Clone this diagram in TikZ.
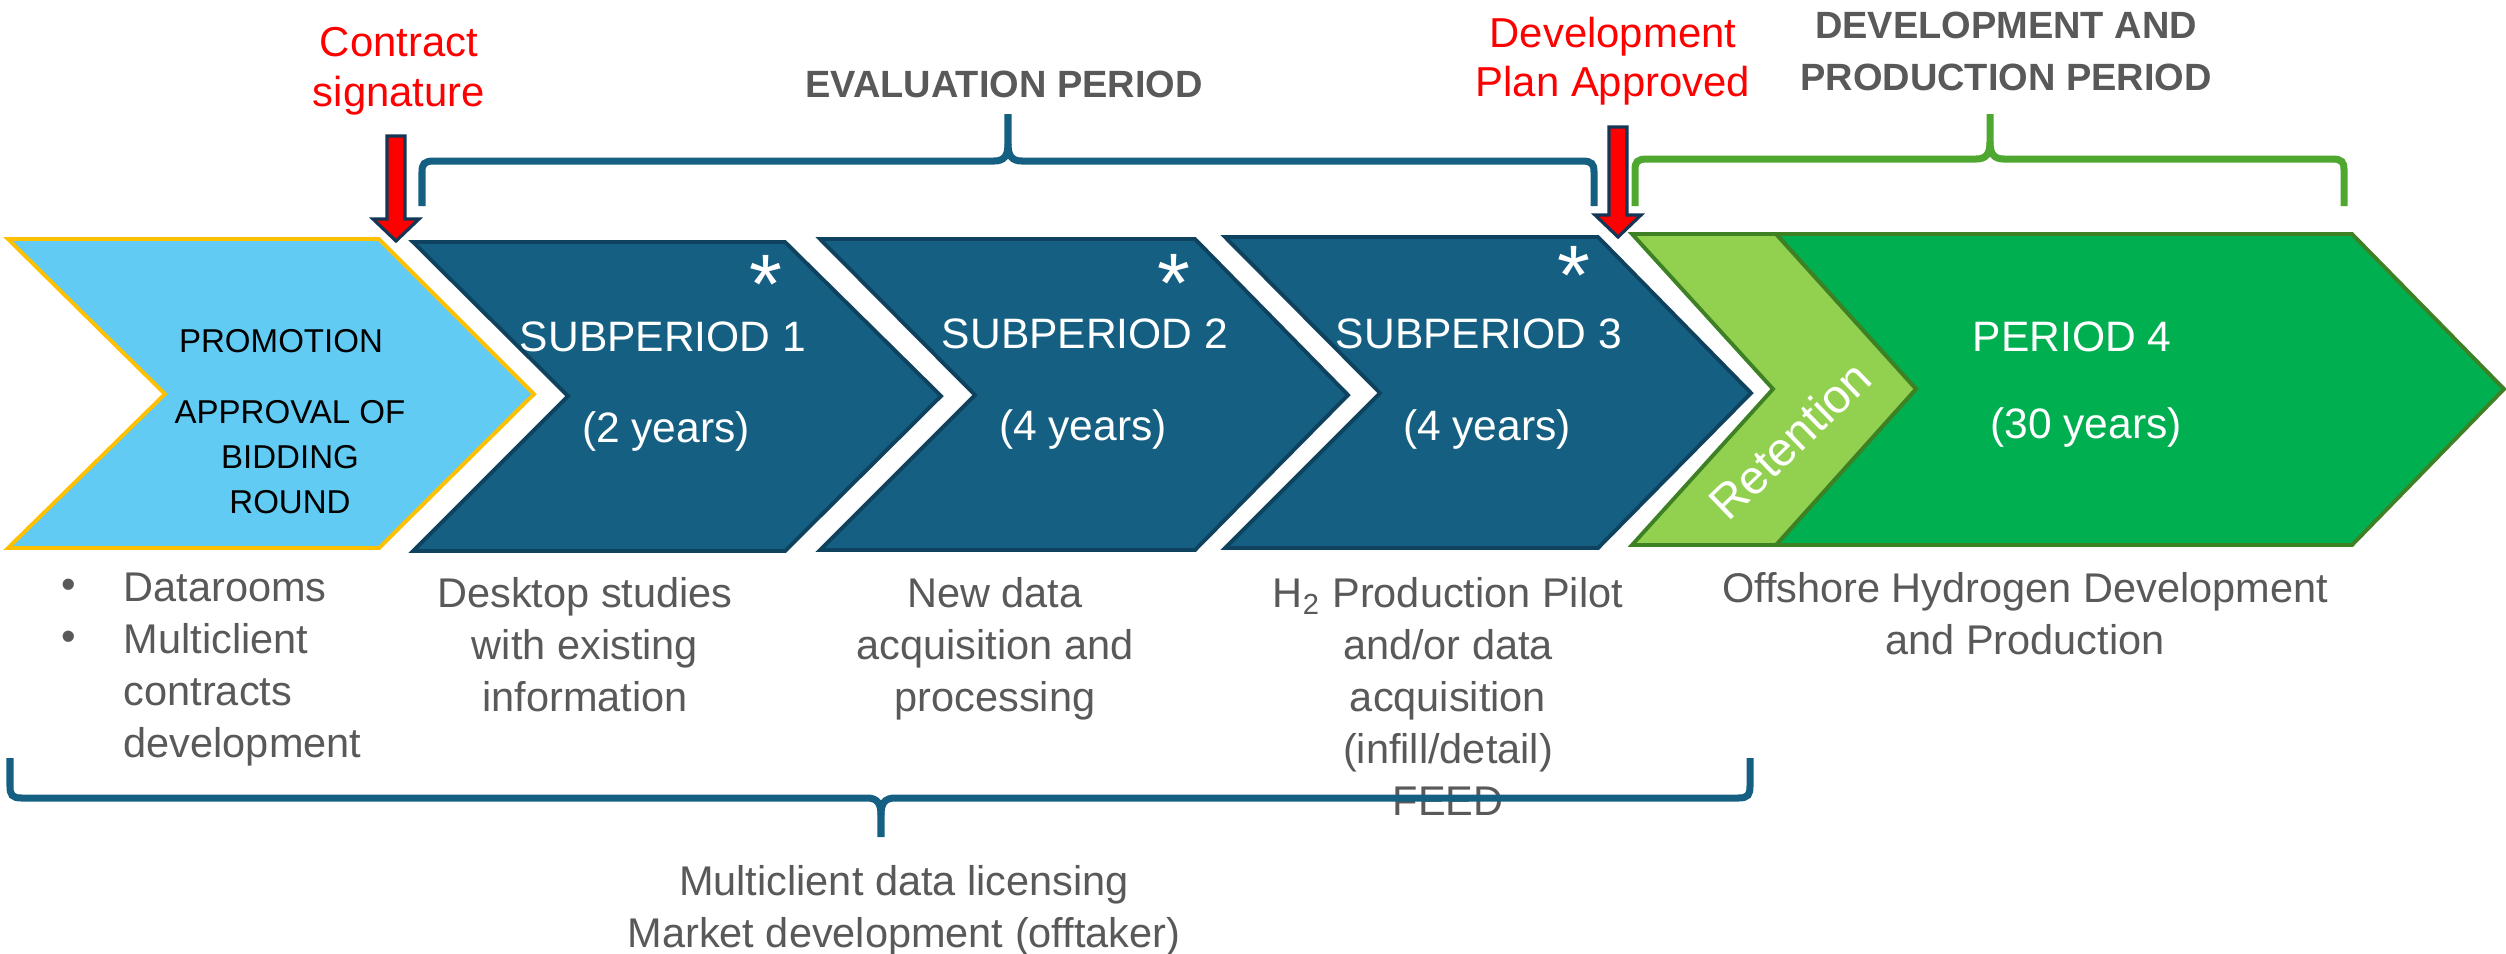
\documentclass[tikz,border=0pt]{standalone}
\usepackage{fontspec}
\setmainfont{Liberation Sans}
\definecolor{lblue}{RGB}{97,203,243}
\definecolor{gold}{RGB}{255,192,0}
\definecolor{dblue}{RGB}{21,96,130}
\definecolor{dbord}{RGB}{14,66,94}
\definecolor{lgreen}{RGB}{146,208,80}
\definecolor{pgreen}{RGB}{0,176,80}
\definecolor{gbord}{RGB}{62,128,36}
\definecolor{gbrace}{RGB}{78,167,46}
\definecolor{txtgray}{RGB}{89,89,89}
\definecolor{arrowbord}{RGB}{20,55,85}
\begin{document}
\begin{tikzpicture}[x=0.01cm,y=-0.01cm,
  chev/.style={line width=1.1pt,line join=miter},
  wtxt/.style={text=white,font=\fontsize{12.1}{14}\selectfont,inner sep=0pt,anchor=north},
  gtxt/.style={text=txtgray,font=\fontsize{11.8}{14.8}\selectfont,inner sep=0pt,anchor=north,align=center},
  ltxt/.style={text=txtgray,font=\fontsize{11.8}{14.8}\selectfont,inner sep=0pt,anchor=north west,align=left},
  rtxt/.style={text=red,font=\fontsize{11.9}{14.2}\selectfont,inner sep=0pt,anchor=north,align=center},
  ttl/.style={text=txtgray,font=\bfseries\fontsize{10.8}{14.8}\selectfont,inner sep=0pt,anchor=north,align=center},
  ptxt/.style={text=black,font=\fontsize{9.4}{12.8}\selectfont,inner sep=0pt,anchor=north,align=center},
  startxt/.style={text=white,font=\fontsize{24}{24}\selectfont,inner sep=0pt,anchor=north},
  brc/.style={line width=2pt},
  redarrow/.style={fill=red,draw=arrowbord,line width=0.9pt,line join=miter}]
\useasboundingbox (0,0) rectangle (2506,953);
\fill[white] (0,0) rectangle (2506,953);

% chevrons
\filldraw[chev,fill=lblue,draw=gold] (8,239) -- (379,239) -- (534,394) -- (379,548) -- (8,548) -- (165,394) -- cycle;
\filldraw[chev,fill=dblue,draw=dbord] (413,242) -- (785,242) -- (941,396) -- (785,551) -- (413,551) -- (568,396) -- cycle;
\filldraw[chev,fill=dblue,draw=dbord] (820,239) -- (1195,239) -- (1348,395) -- (1195,550) -- (820,550) -- (975,395) -- cycle;
\filldraw[chev,fill=dblue,draw=dbord] (1225,237) -- (1598,237) -- (1751,393) -- (1598,548) -- (1225,548) -- (1380,393) -- cycle;
\filldraw[chev,fill=pgreen,draw=gbord] (1776,234) -- (2352,234) -- (2504,389) -- (2352,545) -- (1776,545) -- (1916,389) -- cycle;
\filldraw[chev,fill=lgreen,draw=gbord] (1632,234) -- (1776,234) -- (1916,389) -- (1776,545) -- (1632,545) -- (1773,389) -- cycle;

% chevron texts
\node[ptxt] (promo) at (281,329) {PROMOTION};
\node[ptxt] (approval) at (290,400) {APPROVAL OF\\BIDDING\\ROUND};
\node[wtxt] (sp1) at (663,321) {SUBPERIOD 1};
\node[wtxt] (sp1y) at (666,411) {(2 years)};
\node[wtxt] (sp2) at (1085,318) {SUBPERIOD 2};
\node[wtxt] (sp2y) at (1083,409) {(4 years)};
\node[wtxt] (sp3) at (1479,318) {SUBPERIOD 3};
\node[wtxt] (sp3y) at (1487,409) {(4 years)};
\node[wtxt] (p4) at (2072,321) {PERIOD 4};
\node[wtxt] (p4y) at (2086,407) {(30 years)};
\node[startxt] (st1) at (766,255) {*};
\node[startxt] (st2) at (1174,254) {*};
\node[startxt] (st3) at (1574,246) {*};
\node[rotate=44,text=white,font=\fontsize{13.5}{13.5}\selectfont,inner sep=0pt] (ret) at (1790,440) {Retention};

% top labels
\node[rtxt] (contract) at (399,27) {Contract\\signature};
\node[rtxt] (devplan) at (1613,16) {Development\\Plan Approved};
\node[ttl] (evaltitle) at (1004,70) {EVALUATION PERIOD};
\node[ttl] (devtitle) at (2006,11) {DEVELOPMENT AND\\PRODUCTION PERIOD};

% red arrows
\draw[redarrow] (387,136) -- (405,136) -- (405,219) -- (419,219) -- (396,241) -- (373,219) -- (387,219) -- cycle;
\draw[redarrow] (1609,127) -- (1627,127) -- (1627,215) -- (1641,215) -- (1618,237) -- (1595,215) -- (1609,215) -- cycle;

% evaluation brace
\draw[brc,draw=dblue] (422,206) -- (422,172) .. controls (422,164) and (424,161) .. (434,161) -- (994,161) .. controls (1004,161) and (1008,156) .. (1008,144) -- (1008,114);
\draw[brc,draw=dblue] (1008,144) .. controls (1008,156) and (1012,161) .. (1022,161) -- (1582,161) .. controls (1592,161) and (1594,164) .. (1594,172) -- (1594,206);
% development brace
\draw[brc,draw=gbrace] (1635,206) -- (1635,170) .. controls (1635,162) and (1637,159) .. (1647,159) -- (1976,159) .. controls (1986,159) and (1990,154) .. (1990,142) -- (1990,114);
\draw[brc,draw=gbrace] (1990,142) .. controls (1990,154) and (1994,159) .. (2004,159) -- (2332,159) .. controls (2342,159) and (2344,162) .. (2344,170) -- (2344,206);

% bottom texts
\node[text=txtgray,font=\fontsize{11.8}{14.8}\selectfont,inner sep=0pt] (b1) at (69,589) {\textbullet};
\node[text=txtgray,font=\fontsize{11.8}{14.8}\selectfont,inner sep=0pt] (b2) at (69,641) {\textbullet};
\node[ltxt] (list) at (123,572) {Datarooms\\Multiclient\\contracts\\development};
\node[gtxt] (desk) at (585,577) {Desktop studies\\with existing\\information};
\node[gtxt] (newdata) at (995,577) {New data\\acquisition and\\processing};
\node[gtxt] (h2) at (1448,577) {H\textsubscript{2} Production Pilot\\and/or data\\acquisition\\(infill/detail)\\FEED};
\node[gtxt] (offshore) at (2025,572) {Offshore Hydrogen Development\\and Production};
\node[gtxt] (multi) at (904,865) {Multiclient data licensing\\Market development (offtaker)};

% bottom brace
\draw[brc,draw=dblue] (10,758) -- (10,786) .. controls (10,795) and (12,798) .. (22,798) -- (867,798) .. controls (877,798) and (881,803) .. (881,815) -- (881,837);
\draw[brc,draw=dblue] (881,815) .. controls (881,803) and (885,798) .. (895,798) -- (1738,798) .. controls (1748,798) and (1750,795) .. (1750,786) -- (1750,758);
\end{tikzpicture}
\end{document}
